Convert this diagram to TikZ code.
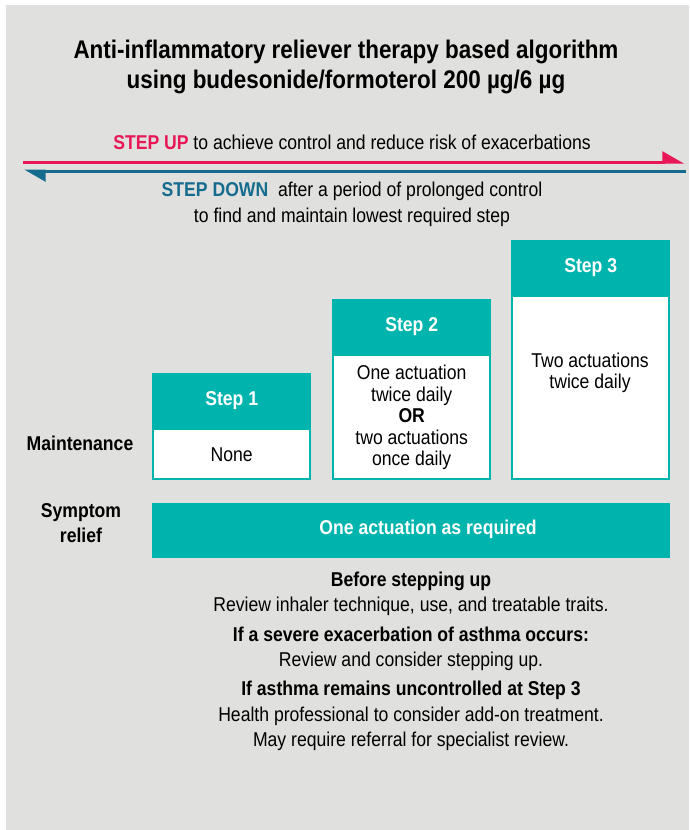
\documentclass[tikz,border=0pt]{standalone}
\usepackage{fontspec}
\setmainfont{Liberation Sans}[FakeStretch=0.88]
\usetikzlibrary{arrows.meta,positioning}
\definecolor{panelgray}{RGB}{224,224,222}
\definecolor{stepteal}{RGB}{0,180,174}
\definecolor{upred}{RGB}{232,24,86}
\definecolor{downblue}{RGB}{22,108,142}
\tikzset{
  titletext/.style={font=\bfseries\fontsize{25.5}{30}\selectfont, align=center, inner sep=0pt},
  bodytext/.style={font=\fontsize{20}{21.5}\selectfont, align=center, inner sep=0pt},
  notetext/.style={font=\fontsize{20}{25.5}\selectfont, align=center, inner sep=0pt},
  rowlabel/.style={font=\bfseries\fontsize{20}{25}\selectfont, align=center, inner sep=0pt},
  stephead/.style={fill=stepteal, text=white, font=\bfseries\fontsize{20}{21}\selectfont,
    anchor=north west, inner sep=0pt, minimum width=159pt, minimum height=55pt},
  stepbody/.style={fill=white, draw=stepteal, line width=2pt, anchor=north,
    inner sep=0pt, minimum width=157pt},
  reliefbar/.style={fill=stepteal, inner sep=0pt, minimum width=518pt, minimum height=55pt},
  steparrow/.style={line width=3pt, -{Triangle[left,length=19pt,width=21pt]}}
}
\begin{document}
\begin{tikzpicture}[x=1pt,y=-1pt]
% the panel
\fill[white] (0,0) rectangle (689,830);
\fill[panelgray] (6,5) rectangle (689,830);
% the title
\node[titletext] (title) at (346,67) {Anti-inflammatory reliever therapy based algorithm\\using budesonide/formoterol 200 µg/6 µg};
% the step up and step down arrows
\coordinate (upleft) at (23,162);
\coordinate (upright) at (684,162);
\coordinate (downleft) at (24,171);
\coordinate (downright) at (686,171);
\draw[steparrow, upred] (upleft) -- (upright);
\draw[steparrow, downblue] (downright) -- (downleft);
\node[bodytext] (uptext) at (352,142) {\textcolor{upred}{\bfseries STEP UP} to achieve control and reduce risk of exacerbations};
\node[bodytext, font=\fontsize{20}{26}\selectfont] (downtext) at (352,204) {\textcolor{downblue}{\bfseries STEP DOWN}\ \ after a period of prolonged control\\to find and maintain lowest required step};
% the three steps
\foreach \n/\x/\y in {1/152/373, 2/332/299, 3/511/240}{
  \node[stephead] (head\n) at (\x,\y) {Step \n};
  \node[stepbody, minimum height=423-\y] (body\n) at (head\n.south) {};
}
\node[bodytext] (none) at (body1.center) {None};
\node[bodytext] (dose2) at (body2.center) {One actuation\\twice daily\\\textbf{OR}\\two actuations\\once daily};
\node[bodytext] (dose3) at (590,373) {Two actuations\\twice daily};
% the row labels
\node[rowlabel] (maint) at (80,443) {Maintenance};
\node[rowlabel] (symptom) at (81,523) {Symptom\\relief};
% the reliever bar
\node[reliefbar] (relief) at (411,530) {};
\node[bodytext, text=white, font=\bfseries\fontsize{20}{21.5}\selectfont] (reliefnote) at (428,529) {One actuation as required};
% the notes
\node[notetext] (before) at (411,594) {\textbf{Before stepping up}\\Review inhaler technique, use, and treatable traits.};
\node[notetext] (severe) at (411,649) {\textbf{If a severe exacerbation of asthma occurs:}\\Review and consider stepping up.};
\node[notetext] (uncontrolled) at (411,716) {\textbf{If asthma remains uncontrolled at Step 3}\\Health professional to consider add-on treatment.\\May require referral for specialist review.};
\end{tikzpicture}
\end{document}
